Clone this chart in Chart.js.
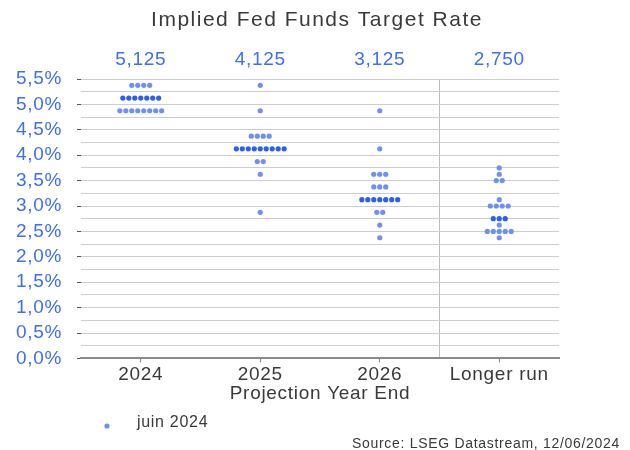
<!DOCTYPE html>
<html>
<head>
<meta charset="utf-8">
<script src="https://cdn.jsdelivr.net/npm/chart.js@4.4.1/dist/chart.umd.min.js"></script>
<style>
  html,body{margin:0;padding:0;background:#fff;}
  #wrap{width:630px;height:450px;position:relative;}
</style>
</head>
<body>
<div id="wrap"><canvas id="dots"></canvas></div>
<script>
/* FOMC dot plot, juin 2024 — one dot per participant */
const categories = ['2024', '2025', '2026', 'Longer run'];
const medians    = [5.125, 4.125, 3.125, 2.75];

const rates2024   = [5.375, 5.125, 4.875];
const counts2024  = [4, 7, 8];
const rates2025   = [5.375, 4.875, 4.375, 4.125, 3.875, 3.625, 2.875];
const counts2025  = [1, 1, 4, 9, 2, 1, 1];
const rates2026   = [4.875, 4.125, 3.625, 3.375, 3.125, 2.875, 2.625, 2.375];
const counts2026  = [1, 1, 3, 3, 7, 2, 1, 1];
const ratesLonger = [3.75, 3.625, 3.5, 3.125, 3.0, 2.75, 2.625, 2.5, 2.375];
const countsLonger= [1, 1, 2, 1, 4, 3, 1, 5, 1];

const chartTitle  = 'Implied Fed Funds Target Rate';
const seriesLabel = 'juin 2024';
const sourceText  = 'Source: LSEG Datastream, 12/06/2024';

const RATES  = [rates2024, rates2025, rates2026, ratesLonger];
const COUNTS = [counts2024, counts2025, counts2026, countsLonger];

const LIGHT='#6f90f3', DARK='#2b5ff4', BLUE='#3d6ff5', TXT='#3a3a3a';
const FONT='"Liberation Sans", Arial, sans-serif';
const dotStep=0.05; // horizontal spacing of stacked dots (x units)

// spread each row of dots around its category
const pts=[], cols=[];
RATES.forEach((rs,i)=>{
  rs.forEach((r,k)=>{
    const n=COUNTS[i][k];
    for(let j=0;j<n;j++){
      pts.push({x:i+(j-(n-1)/2)*dotStep, y:r});
      cols.push(r===medians[i]?DARK:LIGHT);
    }
  });
});

const isHalf=v=>Math.abs(v*2-Math.round(v*2))<1e-9;
const fmtPct=v=>v.toFixed(1).replace('.',',')+'%';

// the reference text is set a little wide
const spacing={
  id:'spacing',
  beforeLayout(chart){chart.ctx.letterSpacing='0.7px';},
  beforeDraw(chart){chart.ctx.letterSpacing='0.7px';},
};

const extras={
  id:'extras',
  afterDraw(chart){
    const {ctx,scales:{x}}=chart;
    ctx.save();
    ctx.textBaseline='middle';
    // title
    ctx.letterSpacing='1.5px';
    ctx.fillStyle=TXT;ctx.font=`21px ${FONT}`;ctx.textAlign='center';
    ctx.fillText(chartTitle,317,20);
    ctx.letterSpacing='0.7px';
    // medians above each column
    ctx.fillStyle=BLUE;ctx.font=`19px ${FONT}`;
    medians.forEach((m,i)=>ctx.fillText(m.toFixed(3).replace('.',','),x.getPixelForValue(i),60));
    // legend
    ctx.beginPath();ctx.arc(107,426,2.6,0,Math.PI*2);ctx.fillStyle=LIGHT;ctx.fill();
    ctx.fillStyle=TXT;ctx.font=`16px ${FONT}`;ctx.textAlign='left';
    ctx.fillText(seriesLabel,137,423);
    // source
    ctx.font=`14px ${FONT}`;ctx.textAlign='right';
    ctx.fillText(sourceText,620,444);
    ctx.restore();
  }
};

new Chart(document.getElementById('dots'),{
  type:'scatter',
  data:{datasets:[{
    label:seriesLabel,data:pts,
    pointRadius:2.6,pointHoverRadius:3,pointBorderWidth:0,
    pointBackgroundColor:cols,backgroundColor:LIGHT,borderColor:LIGHT,
  }]},
  options:{
    responsive:true,maintainAspectRatio:false,animation:false,
    layout:{padding:{left:0,right:71,top:79,bottom:45}},
    plugins:{legend:{display:false},tooltip:{enabled:false},title:{display:false}},
    scales:{
      x:{type:'linear',min:-0.5,max:3.5,
        afterBuildTicks:s=>{s.ticks=categories.map((c,i)=>({value:i})).concat([{value:2.5}]);},
        ticks:{autoSkip:false,maxRotation:0,padding:1,color:TXT,
          font:{family:FONT,size:19},
          callback:v=>Number.isInteger(v)?categories[v]:''},
        grid:{drawOnChartArea:true,tickLength:4,
          color:c=>c.tick&&c.tick.value===2.5?'#bdbdbd':'transparent',
          tickColor:c=>c.tick&&Number.isInteger(c.tick.value)?'#8a8a8a':'transparent'},
        border:{color:'#8a8a8a',width:2},
        title:{display:true,text:'Projection Year End',color:TXT,
          font:{family:FONT,size:19},padding:{top:-5,bottom:0}},
      },
      y:{min:0,max:5.5,
        afterFit:s=>{s.width=81;},
        ticks:{stepSize:0.25,autoSkip:false,padding:15,color:BLUE,
          font:{family:FONT,size:19},
          callback:v=>isHalf(v)?fmtPct(v):''},
        grid:{tickLength:4,
          color:c=>c.tick&&c.tick.value===0?'transparent':'#cdcdcd',
          tickColor:c=>c.tick&&isHalf(c.tick.value)?'#555':'transparent'},
        border:{display:false},
      }
    }
  },
  plugins:[spacing,extras]
});
</script>
</body>
</html>
